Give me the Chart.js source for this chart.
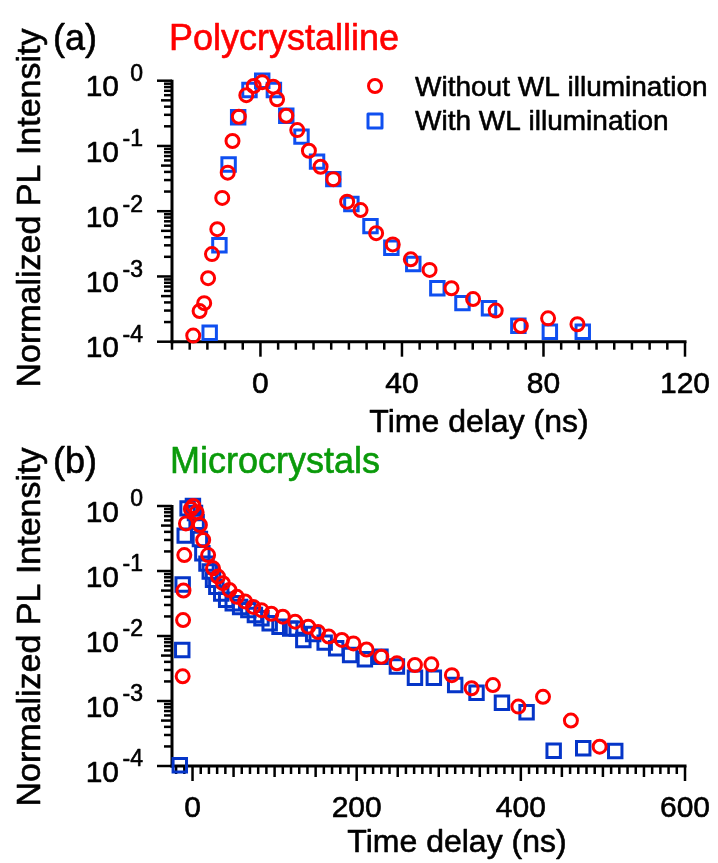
<!DOCTYPE html>
<html>
<head>
<meta charset="utf-8">
<script src="https://cdn.jsdelivr.net/npm/chart.js@4.4.0/dist/chart.umd.min.js"></script>
<style>
  body { margin: 0; background: #fff; }
  #wrap { position: relative; width: 718px; height: 863px; }
  canvas { position: absolute; left: 0; }
</style>
</head>
<body>
<div id="wrap">
  <canvas id="chartA" width="718" height="445" style="top:0"></canvas>
  <canvas id="chartB" width="718" height="432" style="top:431px"></canvas>
</div>
<script>
// (a) Polycrystalline : [time delay (ns), normalized PL]
var polyWithout = [[-19,1.24e-4],[-17.2,2.95e-4],[-15.9,3.9e-4],[-14.8,9.4e-4],[-13.7,2.2e-3],[-12.2,5.3e-3],
  [-10.8,0.016],[-9.25,0.039],[-7.9,0.119],[-6.1,0.28],[-4,0.60],[-1.9,0.83],[0.5,0.95],[3.6,0.81],[4.7,0.52],
  [7.3,0.29],[10.4,0.175],[13.7,0.0845],[17,0.048],[20.6,0.031],[24.5,0.014],[28.3,0.0104],[32.7,4.6e-3],
  [37.4,3.1e-3],[42.5,1.83e-3],[47.8,1.26e-3],[54,6.6e-4],[60.1,4.5e-4],[66.5,3.0e-4],[73.6,1.74e-4],
  [81.3,2.28e-4],[89.6,1.85e-4]];
var polyWith = [[-14.35,1.37e-4],[-11.6,3.0e-3],[-9,0.052],[-6.3,0.275],[-3.1,0.72],[0.5,1.0],[3.8,0.72],
  [7.3,0.29],[11.6,0.139],[16,0.0575],[20.6,0.031],[25.7,0.0129],[31.1,5.9e-3],[37,2.76e-3],[43.2,1.55e-3],
  [50,6.6e-4],[57.1,3.9e-4],[64.6,3.25e-4],[72.9,1.76e-4],[81.8,1.42e-4],[91.1,1.42e-4]];

// (b) Microcrystals
var microWithout = [[-12,2.4e-3],[-11.5,0.0176],[-11,0.05],[-10,0.176],[-8,0.54],[-2,0.9],[1,1.0],[5,0.8],
  [9,0.51],[13,0.30],[19,0.176],[25,0.11],[31,0.082],[37,0.065],[45,0.051],[54,0.040],[64,0.034],[74,0.028],
  [84,0.025],[96,0.022],[110,0.0198],[125,0.0166],[141,0.0139],[153,0.0115],[166,9.8e-3],[182,8.7e-3],
  [196,7.7e-3],[212,6.2e-3],[230,4.8e-3],[249,3.8e-3],[271,3.58e-3],[291,3.66e-3],[316,2.5e-3],[340,1.57e-3],
  [366,1.76e-3],[397,8.2e-4],[427,1.16e-3],[461,5.0e-4],[496,1.98e-4]];
var microWith = [[-15.5,1.03e-4],[-12.5,6.1e-3],[-12,0.062],[-9.5,0.35],[-6,0.92],[0.5,1.0],[3,0.78],[5,0.57],
  [9,0.31],[12,0.187],[17,0.13],[21,0.098],[25,0.073],[29,0.057],[35,0.045],[41,0.036],[49,0.032],[58,0.028],
  [68,0.025],[76,0.021],[84,0.0187],[94,0.0157],[106,0.0139],[119,0.013],[127,0.013],[135,8.7e-3],[147,0.0107],
  [161,7.9e-3],[175,6.5e-3],[192,5.1e-3],[210,4.4e-3],[229,4.8e-3],[249,3.4e-3],[271,2.28e-3],[294,2.28e-3],
  [320,1.76e-3],[346,1.34e-3],[377,9.4e-4],[407,6.7e-4],[440,1.72e-4],[476,1.87e-4],[515,1.7e-4]];

var xTicksA = [0, 40, 80, 120];
var xTicksB = [0, 200, 400, 600];
var yExponents = [0, -1, -2, -3, -4];
var seriesNames = ['Without WL illumination', 'With WL illumination'];

var FONT = '"Liberation Sans", Arial, Helvetica, sans-serif';

function toXY(arr) {
  return arr.map(function (p) { return { x: p[0], y: p[1] }; });
}

function line(ctx, x1, y1, x2, y2) {
  ctx.beginPath(); ctx.moveTo(x1, y1); ctx.lineTo(x2, y2); ctx.stroke();
}

// text a touch heavier than plain Liberation Sans
function text(ctx, s, x, y) {
  ctx.fillText(s, x, y);
  ctx.strokeText(s, x, y);
}

// axes, ticks and all text drawn by hand off the chart's own scales
var framePlugin = {
  id: 'frame',
  beforeDatasetsDraw: function (chart, args, o) {
    var ctx = chart.ctx, xs = chart.scales.x, ys = chart.scales.y, a = chart.chartArea;
    ctx.save();
    ctx.strokeStyle = '#000';
    ctx.fillStyle = '#000';

    // y ticks (log)
    ctx.lineWidth = 2.5;
    for (var e = 0; e >= -4; e--) {
      for (var m = 1; m <= 9; m++) {
        if (e == 0 && m > 1) break;
        var py = ys.getPixelForValue(m * Math.pow(10, e));
        if (py > a.bottom + 0.5) continue;
        var len = m == 1 ? 15 : (m == 5 ? 11 : 8);
        line(ctx, a.left - len, py, a.left, py);
      }
    }
    // x ticks
    for (var t = o.xMin; t <= o.xMax; t += o.minor) {
      var px = xs.getPixelForValue(t);
      var len2 = (t % o.major == 0) ? 15 : ((o.mid && t % o.mid == 0) ? 11 : 8);
      line(ctx, px, a.bottom, px, a.bottom + len2);
    }
    // axis lines
    ctx.lineWidth = 3;
    line(ctx, a.left, a.top - 1, a.left, a.bottom + 1.5);
    line(ctx, a.left - 1.5, a.bottom, a.right + 1.5, a.bottom);

    ctx.lineWidth = 0.6;
    ctx.lineJoin = 'round';

    // y tick labels 10^n
    ctx.textBaseline = 'middle';
    yExponents.forEach(function (n) {
      var py = ys.getPixelForValue(Math.pow(10, n));
      ctx.textAlign = 'right';
      ctx.font = '30px ' + FONT;
      text(ctx, '10', 119, py + 7.5);
      ctx.font = '23px ' + FONT;
      text(ctx, n == 0 ? '0' : '-' + (-n), 143, py - 6);
    });
    // x tick labels
    ctx.textAlign = 'center';
    ctx.font = '30px ' + FONT;
    o.xLabels.forEach(function (v) {
      text(ctx, String(v), xs.getPixelForValue(v), a.bottom + 43);
    });

    // axis titles
    ctx.font = '32px ' + FONT;
    text(ctx, 'Time delay (ns)', o.xTitle[0], o.xTitle[1]);
    ctx.save();
    ctx.translate(31, o.yTitleY);
    ctx.rotate(-Math.PI / 2);
    ctx.font = '34px ' + FONT;
    text(ctx, 'Normalized PL Intensity', 0, 0);
    ctx.restore();

    // panel tag and name
    ctx.textBaseline = 'alphabetic';
    ctx.textAlign = 'left';
    ctx.font = '36px ' + FONT;
    text(ctx, o.tag, 53, o.tagY);
    ctx.fillStyle = o.nameColor;
    ctx.strokeStyle = o.nameColor;
    text(ctx, o.name, o.nameX, o.tagY);

    // legend
    if (o.legend) {
      ctx.lineWidth = 3;
      ctx.strokeStyle = '#ff0000';
      ctx.beginPath(); ctx.arc(375, 86, 6.5, 0, Math.PI * 2); ctx.stroke();
      ctx.strokeStyle = o.blue;
      ctx.strokeRect(368, 114, 14, 14);
      ctx.fillStyle = '#000';
      ctx.strokeStyle = '#000';
      ctx.lineWidth = 0.6;
      ctx.font = '28px ' + FONT;
      text(ctx, seriesNames[0], 415, 96);
      text(ctx, seriesNames[1], 415, 130);
    }
    ctx.restore();
  }
};

function makeChart(id, redPts, bluePts, blue, xMin, xMax, pad, frame) {
  return new Chart(document.getElementById(id).getContext('2d'), {
    type: 'scatter',
    data: {
      datasets: [{
        label: seriesNames[0],
        data: toXY(redPts),
        pointStyle: 'circle',
        pointRadius: 6.5,
        pointBorderWidth: 3,
        pointBorderColor: '#ff0000',
        pointBackgroundColor: 'rgba(0,0,0,0)',
        clip: false
      }, {
        label: seriesNames[1],
        data: toXY(bluePts),
        pointStyle: 'rect',
        pointRadius: 9.5,
        pointBorderWidth: 3,
        pointBorderColor: blue,
        pointBackgroundColor: 'rgba(0,0,0,0)',
        clip: false
      }]
    },
    options: {
      responsive: false,
      animation: false,
      events: [],
      layout: { padding: pad, autoPadding: false },
      scales: {
        x: { type: 'linear', min: xMin, max: xMax, display: false },
        y: { type: 'logarithmic', min: 1e-4, max: 1, display: false }
      },
      plugins: { legend: { display: false }, tooltip: { enabled: false }, frame: frame }
    },
    plugins: [framePlugin]
  });
}

makeChart('chartA', polyWithout, polyWith, '#0f4ff0', -25, 120,
  { left: 172, right: 33, top: 80.7, bottom: 445 - 341.7 },
  { xMin: -25, xMax: 120, minor: 5, major: 40, mid: 0, xLabels: xTicksA,
    xTitle: [479, 423], yTitleY: 208, tag: '(a)', tagY: 50, name: 'Polycrystalline',
    nameX: 169, nameColor: '#ff0000', legend: true, blue: '#0f4ff0' });

makeChart('chartB', microWithout, microWith, '#0535c8', -25, 600,
  { left: 172, right: 33, top: 75, bottom: 97 },
  { xMin: -20, xMax: 600, minor: 10, major: 200, mid: 50, xLabels: xTicksB,
    xTitle: [457, 412], yTitleY: 196, tag: '(b)', tagY: 42, name: 'Microcrystals',
    nameX: 170, nameColor: '#0a9a0a', legend: false, blue: '#0535c8' });
</script>
</body>
</html>
